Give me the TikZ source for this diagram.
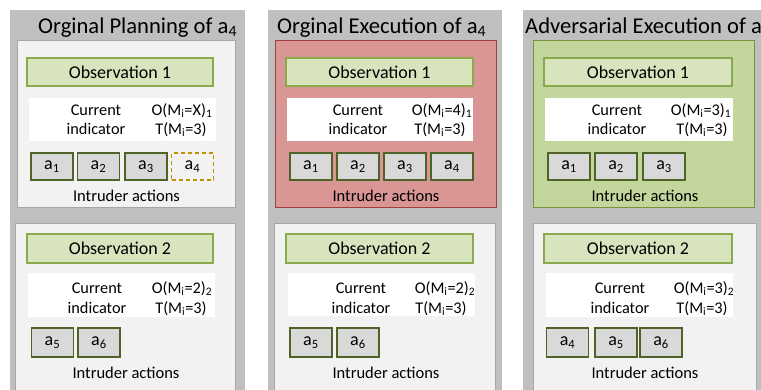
\documentclass[tikz,border=0pt]{standalone}
\usepackage{fontspec}
\setmainfont{Carlito}
\definecolor{panelgray}{HTML}{BFBFBF}
\definecolor{lightfill}{HTML}{F2F2F2}
\definecolor{lightdraw}{HTML}{A6A6A6}
\definecolor{redfill}{HTML}{D99694}
\definecolor{reddraw}{HTML}{A0403C}
\definecolor{greenfill}{HTML}{C3D69B}
\definecolor{greendraw}{HTML}{77933C}
\definecolor{obsfill}{HTML}{D7E4BD}
\definecolor{obsdraw}{HTML}{8AAA4E}
\definecolor{actfill}{HTML}{D9D9D9}
\definecolor{actdraw}{HTML}{4F6228}
\definecolor{golddraw}{HTML}{BF9000}
\tikzset{
  panelbox/.style={fill=panelgray, draw=none},
  innerlight/.style={fill=lightfill, draw=lightdraw, line width=1pt},
  innerred/.style={fill=redfill, draw=reddraw, line width=1pt},
  innergreen/.style={fill=greenfill, draw=greendraw, line width=1pt},
  whitebox/.style={fill=white, draw=none},
  obsbox/.style={rectangle, fill=obsfill, draw=obsdraw, line width=1.2pt, inner sep=0pt,
    font=\fontsize{18}{21}\selectfont},
  actbox/.style={rectangle, fill=actfill, draw=actdraw, line width=1.2pt, inner sep=0pt,
    font=\fontsize{18}{21}\selectfont},
  plannedbox/.style={rectangle, fill=lightfill, draw=golddraw, line width=1.2pt, dashed,
    dash pattern=on 4pt off 3pt, inner sep=0pt, font=\fontsize{18}{21}\selectfont},
  titletext/.style={anchor=base west, inner sep=0pt, font=\fontsize{22.6}{26}\selectfont},
  bodytext/.style={anchor=base, inner sep=0pt, font=\fontsize{16.3}{19}\selectfont},
  captext/.style={anchor=base, inner sep=0pt, font=\fontsize{16.5}{19}\selectfont},
}
\newcommand{\rectnode}[6]{% style, name, x1, y1, x2, y2
  \path (#3,#4) coordinate (#2-nw) (#5,#6) coordinate (#2-se);
  \draw[#1] (#2-nw) rectangle (#2-se);}
\begin{document}
\begin{tikzpicture}[x=1pt,y=-1pt]
\useasboundingbox (0,0) rectangle (761,389);
\clip (0,0) rectangle (761,389);
\fill[white] (0,0) rectangle (761,389);

% ---------- gray panels ----------
\rectnode{panelbox}{p1}{10}{10}{245}{400}
\rectnode{panelbox}{p2}{268}{10}{502}{400}
\rectnode{panelbox}{p3}{523}{10}{770}{400}

% ---------- titles ----------
\node[titletext] (t1) at (38,33) {Orginal Planning of a\textsubscript{4}};
\node[titletext] (t2) at (277,33) {Orginal Execution of a\textsubscript{4}};
\node[titletext] (t3) at (525,33) {Adversarial Execution of a\textsubscript{4}};

% ---------- inner boxes ----------
\rectnode{innerlight}{i1u}{17}{40}{235}{207}
\rectnode{innerlight}{i1l}{15}{223}{235}{400}
\rectnode{innerred}{i2u}{275}{40}{496}{207}
\rectnode{innerlight}{i2l}{274}{223}{495}{400}
\rectnode{innergreen}{i3u}{533}{40}{754}{207}
\rectnode{innerlight}{i3l}{533}{223}{756}{400}

% ---------- white indicator boxes ----------
\rectnode{whitebox}{w1u}{29}{98}{216}{141}
\rectnode{whitebox}{w1l}{28}{273}{215}{317}
\rectnode{whitebox}{w2u}{287}{98}{473}{141}
\rectnode{whitebox}{w2l}{288}{273}{475}{316}
\rectnode{whitebox}{w3u}{545}{98}{733}{141}
\rectnode{whitebox}{w3l}{546}{273}{733}{317}

% ---------- observation boxes ----------
\node[obsbox, minimum width=186pt, minimum height=28pt] (o1u) at (120,72) {Observation 1};
\node[obsbox, minimum width=186pt, minimum height=29pt] (o1l) at (120,248.5) {Observation 2};
\node[obsbox, minimum width=187pt, minimum height=28pt] (o2u) at (379.5,72) {Observation 1};
\node[obsbox, minimum width=187pt, minimum height=29pt] (o2l) at (379.5,248.5) {Observation 2};
\node[obsbox, minimum width=188pt, minimum height=28pt] (o3u) at (638,72) {Observation 1};
\node[obsbox, minimum width=188pt, minimum height=29pt] (o3l) at (638,248.5) {Observation 2};

% ---------- indicator texts ----------
% panel 1
\node[bodytext] (c1u) at (96,115) {Current};
\node[bodytext] (d1u) at (96,134) {indicator};
\node[bodytext] (x1u) at (182,115) {O(M\textsubscript{i}=X)\textsubscript{1}};
\node[bodytext] (y1u) at (181,134) {T(M\textsubscript{i}=3)};
\node[bodytext] (c1l) at (97,293) {Current};
\node[bodytext] (d1l) at (97,313) {indicator};
\node[bodytext] (x1l) at (182,293) {O(M\textsubscript{i}=2)\textsubscript{2}};
\node[bodytext] (y1l) at (181,313) {T(M\textsubscript{i}=3)};
% panel 2
\node[bodytext] (c2u) at (358,115) {Current};
\node[bodytext] (d2u) at (358,134) {indicator};
\node[bodytext] (x2u) at (442,115) {O(M\textsubscript{i}=4)\textsubscript{1}};
\node[bodytext] (y2u) at (440,134) {T(M\textsubscript{i}=3)};
\node[bodytext] (c2l) at (361,293) {Current};
\node[bodytext] (d2l) at (361,313) {indicator};
\node[bodytext] (x2l) at (445,293) {O(M\textsubscript{i}=2)\textsubscript{2}};
\node[bodytext] (y2l) at (441,313) {T(M\textsubscript{i}=3)};
% panel 3
\node[bodytext] (c3u) at (617,115) {Current};
\node[bodytext] (d3u) at (617,134) {indicator};
\node[bodytext] (x3u) at (701,115) {O(M\textsubscript{i}=3)\textsubscript{1}};
\node[bodytext] (y3u) at (702,134) {T(M\textsubscript{i}=3)};
\node[bodytext] (c3l) at (620,293) {Current};
\node[bodytext] (d3l) at (620,313) {indicator};
\node[bodytext] (x3l) at (704,293) {O(M\textsubscript{i}=3)\textsubscript{2}};
\node[bodytext] (y3l) at (702,313) {T(M\textsubscript{i}=3)};

% ---------- action boxes ----------
\tikzset{actsize/.style={minimum width=42pt, minimum height=27pt}}
% panel 1 upper
\node[actbox, actsize] (p1a1) at (52,166.5) {a\textsubscript{1}};
\node[actbox, actsize] (p1a2) at (98.5,166.5) {a\textsubscript{2}};
\node[actbox, actsize] (p1a3) at (146,166.5) {a\textsubscript{3}};
\node[plannedbox, actsize] (p1a4) at (192.5,166.5) {a\textsubscript{4}};
% panel 1 lower
\node[actbox, actsize, minimum height=29pt] (p1a5) at (52.5,342.5) {a\textsubscript{5}};
\node[actbox, actsize, minimum height=29pt] (p1a6) at (99,342.5) {a\textsubscript{6}};
% panel 2 upper
\node[actbox, actsize] (p2a1) at (311,166.5) {a\textsubscript{1}};
\node[actbox, actsize] (p2a2) at (358,166.5) {a\textsubscript{2}};
\node[actbox, actsize] (p2a3) at (405,166.5) {a\textsubscript{3}};
\node[actbox, actsize] (p2a4) at (452,166.5) {a\textsubscript{4}};
% panel 2 lower
\node[actbox, actsize, minimum height=29pt] (p2a5) at (311,342.5) {a\textsubscript{5}};
\node[actbox, actsize, minimum height=29pt] (p2a6) at (358,342.5) {a\textsubscript{6}};
% panel 3 upper
\node[actbox, actsize] (p3a1) at (569,166.5) {a\textsubscript{1}};
\node[actbox, actsize] (p3a2) at (616,166.5) {a\textsubscript{2}};
\node[actbox, actsize] (p3a3) at (664,166.5) {a\textsubscript{3}};
% panel 3 lower
\node[actbox, actsize, minimum height=29pt] (p3a4) at (567.5,342.5) {a\textsubscript{4}};
\node[actbox, actsize, minimum height=29pt] (p3a5) at (616,342.5) {a\textsubscript{5}};
\node[actbox, actsize, minimum height=29pt] (p3a6) at (661,342.5) {a\textsubscript{6}};

% ---------- captions ----------
\node[captext] (ia1u) at (126.5,201) {Intruder actions};
\node[captext] (ia1l) at (126,378) {Intruder actions};
\node[captext] (ia2u) at (386,201) {Intruder actions};
\node[captext] (ia2l) at (386,378) {Intruder actions};
\node[captext] (ia3u) at (645,201) {Intruder actions};
\node[captext] (ia3l) at (645,378) {Intruder actions};
\end{tikzpicture}
\end{document}
